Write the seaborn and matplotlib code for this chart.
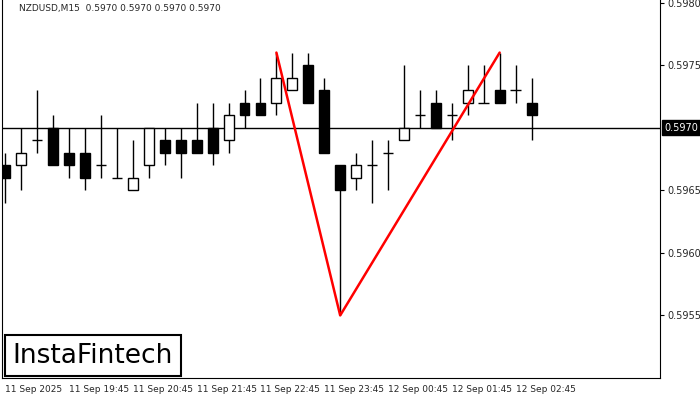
import seaborn as sns
import matplotlib.pyplot as plt
import numpy as np
import pandas as pd

# OHLC values for NZDUSD M15
opens = [0.5967, 0.5967, 0.5969, 0.5970, 0.5968, 0.5968, 0.5967, 0.5966, 0.5965, 0.5967,
         0.5969, 0.5969, 0.5969, 0.5970, 0.5969, 0.5972, 0.5972, 0.5972, 0.5973, 0.5975,
         0.5973, 0.5967, 0.5966, 0.5967, 0.5968, 0.5969, 0.5971, 0.5972, 0.5971, 0.5972,
         0.5972, 0.5973, 0.5973, 0.5972]
highs = [0.5968, 0.5970, 0.5973, 0.5971, 0.5970, 0.5970, 0.5971, 0.5970, 0.5969, 0.5970,
         0.5970, 0.5970, 0.5972, 0.5972, 0.5972, 0.5973, 0.5974, 0.5976, 0.5976, 0.5976,
         0.5974, 0.5967, 0.5968, 0.5969, 0.5969, 0.5975, 0.5973, 0.5973, 0.5972, 0.5975,
         0.5975, 0.5976, 0.5975, 0.5974]
lows = [0.5964, 0.5965, 0.5968, 0.5967, 0.5966, 0.5965, 0.5966, 0.5966, 0.5965, 0.5966,
        0.5967, 0.5966, 0.5968, 0.5967, 0.5968, 0.5970, 0.5971, 0.5971, 0.5973, 0.5972,
        0.5968, 0.5955, 0.5965, 0.5964, 0.5965, 0.5969, 0.5970, 0.5970, 0.5969, 0.5971,
        0.5972, 0.5972, 0.5972, 0.5969]
closes = [0.5966, 0.5968, 0.5969, 0.5967, 0.5967, 0.5966, 0.5967, 0.5966, 0.5966, 0.5970,
          0.5968, 0.5968, 0.5968, 0.5968, 0.5971, 0.5971, 0.5971, 0.5974, 0.5974, 0.5972,
          0.5968, 0.5965, 0.5967, 0.5967, 0.5968, 0.5970, 0.5971, 0.5970, 0.5971, 0.5973,
          0.5972, 0.5972, 0.5973, 0.5971]

tick_idx = [0, 4, 8, 12, 16, 20, 24, 28, 32]
tick_labels = ['11 Sep 2025', '11 Sep 19:45', '11 Sep 20:45', '11 Sep 21:45', '11 Sep 22:45',
               '11 Sep 23:45', '12 Sep 00:45', '12 Sep 01:45', '12 Sep 02:45']
pattern_idx = [17, 21, 31]
pattern_price = [0.5976, 0.5955, 0.5976]
y_ticks = [0.5955, 0.5960, 0.5965, 0.5975, 0.5980]
last_price = 0.5970

df = pd.DataFrame({'open': opens, 'high': highs, 'low': lows, 'close': closes})
df['i'] = np.arange(len(df))

sns.set_style('white')
fig = plt.figure(figsize=(7, 4), dpi=100)
ax = fig.add_axes([0.003, 0.055, 0.94, 0.945])

ax.axhline(last_price, color='black', lw=1, zorder=1)

for r in df.itertuples():
    ax.vlines(r.i, r.low, r.high, color='black', lw=1, zorder=2)
    lo, hi = min(r.open, r.close), max(r.open, r.close)
    if hi - lo < 1e-9:
        ax.hlines(r.open, r.i - 0.33, r.i + 0.33, color='black', lw=1, zorder=3)
    else:
        face = 'white' if r.close > r.open else 'black'
        ax.bar(r.i, hi - lo, bottom=lo, width=0.62, color=face, edgecolor='black',
               linewidth=1, zorder=3)

sns.lineplot(x=pattern_idx, y=pattern_price, color='red', lw=1.8, ax=ax, zorder=4,
             sort=False, estimator=None)

ax.set_xlim(-0.2, 41.06)
ax.set_ylim(0.59500, 0.59802)
ax.set_xticks(tick_idx)
ax.set_xticklabels(tick_labels, fontsize=6.5, ha='left')
ax.yaxis.tick_right()
ax.set_yticks(y_ticks)
ax.set_yticklabels([f'{v:.4f}' for v in y_ticks], fontsize=7)
ax.tick_params(axis='both', length=3, width=0.8, color='black', pad=2, direction='out')
for s in ax.spines.values():
    s.set_color('black')
    s.set_linewidth(0.8)
ax.spines['top'].set_visible(False)

ax.text(1.006, (last_price - 0.59500) / (0.59802 - 0.59500), f'{last_price:.4f}',
        transform=ax.transAxes, fontsize=7, color='white', va='center', ha='left',
        bbox=dict(boxstyle='square,pad=0.25', fc='black', ec='black'))

ax.text(0.025, 0.99, 'NZDUSD,M15  0.5970 0.5970 0.5970 0.5970', transform=ax.transAxes,
        fontsize=6.5, va='top', ha='left')

ax.text(0.016, 0.025, 'InstaFintech', transform=ax.transAxes, fontsize=19, va='bottom',
        ha='left', color='black',
        bbox=dict(boxstyle='square,pad=0.3', fc='white', ec='black', lw=1.5))

fig.savefig('out.png', dpi=100)
